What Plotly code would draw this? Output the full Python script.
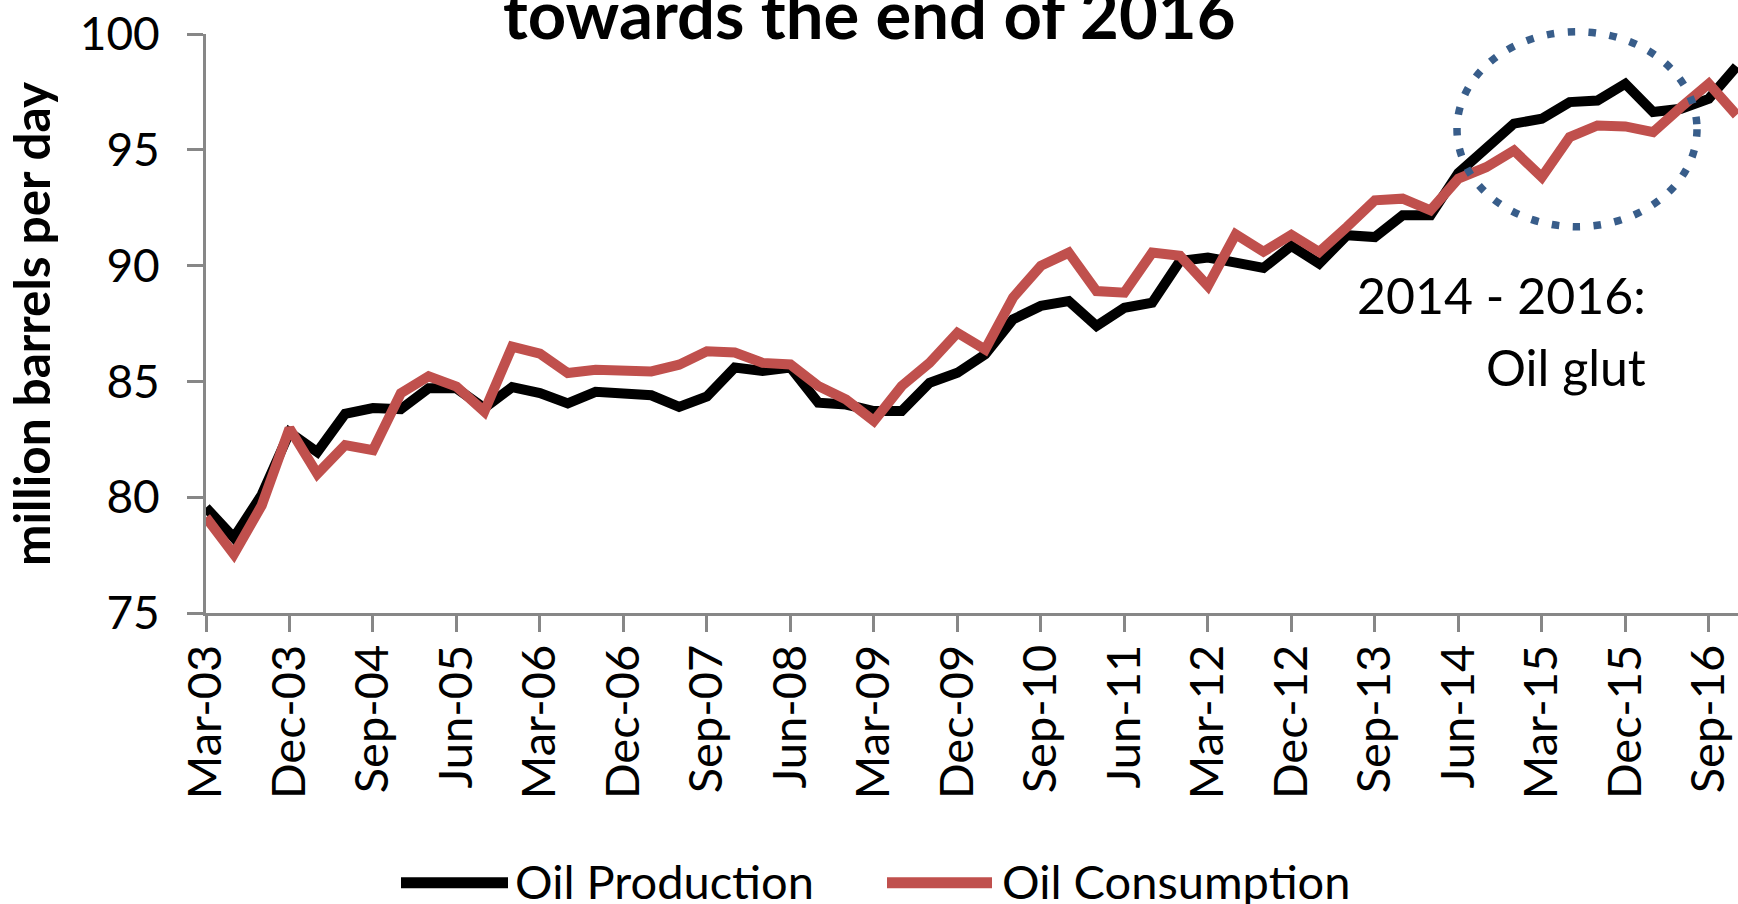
import plotly.graph_objects as go

quarters = [
    "Mar-03", "Jun-03", "Sep-03", "Dec-03", "Mar-04", "Jun-04", "Sep-04", "Dec-04",
    "Mar-05", "Jun-05", "Sep-05", "Dec-05", "Mar-06", "Jun-06", "Sep-06", "Dec-06",
    "Mar-07", "Jun-07", "Sep-07", "Dec-07", "Mar-08", "Jun-08", "Sep-08", "Dec-08",
    "Mar-09", "Jun-09", "Sep-09", "Dec-09", "Mar-10", "Jun-10", "Sep-10", "Dec-10",
    "Mar-11", "Jun-11", "Sep-11", "Dec-11", "Mar-12", "Jun-12", "Sep-12", "Dec-12",
    "Mar-13", "Jun-13", "Sep-13", "Dec-13", "Mar-14", "Jun-14", "Sep-14", "Dec-14",
    "Mar-15", "Jun-15", "Sep-15", "Dec-15", "Mar-16", "Jun-16", "Sep-16", "Dec-16",
]

oil_production = [
    79.55, 78.25, 80.1, 82.8, 81.95, 83.6, 83.85, 83.8,
    84.7, 84.7, 83.85, 84.75, 84.5, 84.05, 84.55, 84.45,
    84.4, 83.9, 84.35, 85.6, 85.45, 85.6, 84.08, 84.0,
    83.72, 83.72, 84.94, 85.37, 86.17, 87.68, 88.26, 88.47,
    87.39, 88.18, 88.4, 90.2, 90.35, 90.13, 89.9, 90.85,
    90.09, 91.31, 91.23, 92.17, 92.17, 94.0, 95.12, 96.13,
    96.34, 97.06, 97.13, 97.85, 96.63, 96.77, 97.2, 98.6,
]

oil_consumption = [
    79.13, 77.54, 79.64, 82.97, 81.01, 82.25, 82.03, 84.49,
    85.22, 84.78, 83.7, 86.5, 86.2, 85.36, 85.5, 85.43,
    85.43, 85.72, 86.3, 86.25, 85.8, 85.73, 84.8, 84.22,
    83.29, 84.8, 85.8, 87.1, 86.38, 88.62, 89.99, 90.56,
    88.9, 88.83, 90.56, 90.42, 89.12, 91.35, 90.6, 91.33,
    90.59, 91.67, 92.82, 92.89, 92.39, 93.75, 94.25, 94.97,
    93.82, 95.55, 96.05, 96.01, 95.76, 96.84, 97.85, 96.5,
]

tick_labels = quarters[::3]
y_ticks = [75, 80, 85, 90, 95, 100]

title_text = "towards the end of 2016"
y_title = "million barrels per day"
glut_lines = ["2014 - 2016:", "Oil glut"]
series_names = ["Oil Production", "Oil Consumption"]

BLACK = "#000000"
RED = "#C0504D"
BLUE = "#385D8A"
AXIS_GRAY = "#878787"
FONT = "Lato"

W, H = 1738, 904
L, R, T, B = 206, 0, 34, 291
PW, PH = W - L - R, H - T - B


def px_x(x):
    return (x - L) / PW


def px_y(y):
    return (H - B - y) / PH


fig = go.Figure()
fig.add_trace(go.Scatter(x=quarters, y=oil_production, mode="lines",
                         name=series_names[0],
                         line=dict(color=BLACK, width=10)))
fig.add_trace(go.Scatter(x=quarters, y=oil_consumption, mode="lines",
                         name=series_names[1],
                         line=dict(color=RED, width=10)))

fig.update_layout(
    width=W, height=H,
    margin=dict(l=L, r=R, t=T, b=B, pad=0),
    paper_bgcolor="white", plot_bgcolor="white",
    showlegend=False,
    font=dict(family=FONT, color="black"),
)

fig.update_xaxes(
    type="category", categoryorder="array", categoryarray=quarters,
    range=[0, 55.05],
    tickmode="array", tickvals=tick_labels, ticktext=tick_labels,
    tickangle=-90, tickfont=dict(family=FONT, size=47, color="black"),
    showline=True, linecolor=AXIS_GRAY, linewidth=3,
    ticks="outside", ticklen=16, tickwidth=3, tickcolor=AXIS_GRAY,
    showgrid=False, zeroline=False, ticklabelstandoff=-6,
)
fig.update_yaxes(
    range=[75, 100],
    tickmode="array", tickvals=y_ticks, ticktext=[str(v) for v in y_ticks],
    tickfont=dict(family=FONT, size=46, color="black"),
    showline=True, linecolor=AXIS_GRAY, linewidth=3,
    ticks="outside", ticklen=16, tickwidth=3, tickcolor=AXIS_GRAY,
    showgrid=False, zeroline=False, ticklabelstandoff=18,
)

annotations = []
# clipped title at the top
annotations.append(dict(
    text="<b>" + title_text + "</b>", xref="paper", yref="paper",
    x=px_x(869), y=px_y(37.3 - 0.37 * 67), xanchor="center", yanchor="middle",
    showarrow=False, font=dict(family=FONT, size=67, color="black"),
))
# y-axis title
annotations.append(dict(
    text="<b>" + y_title + "</b>", xref="paper", yref="paper",
    x=px_x(31), y=px_y(324), xanchor="center", yanchor="middle",
    textangle=-90, showarrow=False, font=dict(family=FONT, size=49.5, color="black"),
))
# oil glut note
for txt, base in zip(glut_lines, [315, 386.7]):
    annotations.append(dict(
        text=txt, xref="paper", yref="paper",
        x=px_x(1648), y=px_y(base - 0.4 * 50), xanchor="right", yanchor="middle",
        align="right", showarrow=False, font=dict(family=FONT, size=50, color="black"),
    ))
# manual legend text
for txt, x0 in zip(series_names, [513, 1000]):
    annotations.append(dict(
        text=txt, xref="paper", yref="paper",
        x=px_x(x0), y=px_y(898 - 0.37 * 47), xanchor="left", yanchor="middle",
        showarrow=False, font=dict(family=FONT, size=47, color="black"),
    ))
fig.update_layout(annotations=annotations)

shapes = []
# legend samples
for color, (x0, x1) in zip([BLACK, RED], [(401, 508), (887, 992)]):
    shapes.append(dict(type="line", xref="paper", yref="paper",
                       x0=px_x(x0), x1=px_x(x1), y0=px_y(882.7), y1=px_y(882.7),
                       line=dict(color=color, width=11)))
# dotted ellipse around the glut
shapes.append(dict(type="circle", xref="paper", yref="paper",
                   x0=px_x(1457), x1=px_x(1697), y0=px_y(226.7), y1=px_y(31.7),
                   line=dict(color=BLUE, width=7.5, dash="7.5px,13.5px")))
fig.update_layout(shapes=shapes)

fig.write_html(
    "out.html",
    config={"displayModeBar": False},
    post_script="document.body.style.margin='0';"
                "document.documentElement.style.overflow='hidden';",
)
